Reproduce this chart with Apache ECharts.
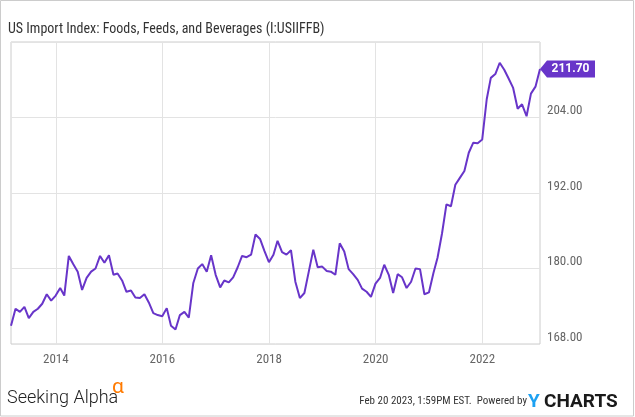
<!DOCTYPE html>
<html>
<head>
<meta charset="utf-8">
<script src="https://cdn.jsdelivr.net/npm/echarts@6/dist/echarts.min.js"></script>
<style>
html,body{margin:0;padding:0;background:#fff;}
#chart{width:635px;height:417px;}
</style>
</head>
<body>
<div id="chart"></div>
<script>
// Monthly values (month-end), Feb 2013 .. Jan 2023
var startYear = 2013;
var startMonth = 2; // February
var values = [
  170.9, 173.6, 173.1, 173.9, 172.1, 173.1, 173.6, 174.4, 175.9, 174.9, 175.7,
  176.9, 175.7, 182.0, 180.7, 179.5, 176.6, 178.5, 179.5, 180.0, 182.0, 180.9, 182.1,
  179.0, 179.2, 178.1, 176.3, 176.5, 175.4, 175.3, 175.9, 174.6, 172.9, 172.6, 172.4,
  173.7, 170.9, 170.3, 172.6, 173.1, 172.2, 177.7, 180.0, 180.7, 179.5, 182.1, 179.0,
  177.0, 178.1, 177.8, 178.6, 180.2, 182.0, 181.8, 182.2, 185.4, 184.7, 182.8, 181.0,
  182.2, 184.4, 182.6, 182.2, 182.9, 177.9, 175.3, 176.1, 179.5, 183.0, 180.2, 180.3,
  179.6, 179.5, 179.0, 184.0, 182.7, 179.9, 179.1, 178.2, 176.8, 176.3, 175.5, 177.6,
  178.5, 180.6, 179.0, 176.1, 179.1, 178.6, 176.9, 177.9, 180.0, 179.9, 175.9, 176.2,
  179.3, 181.7, 185.6, 190.2, 189.9, 193.3, 194.4, 195.5, 198.4, 200.0, 199.9, 200.5,
  206.9, 210.3, 210.9, 212.7, 211.6, 210.2, 208.7, 205.4, 206.1, 204.2, 207.8, 208.9,
  211.7
];
var xTickYears = [2014, 2016, 2018, 2020, 2022];
var yTicks = [168, 180, 192, 204, 216];
var titleText = 'US Import Index: Foods, Feeds, and Beverages (I:USIIFFB)';
var footerText = 'Feb 20 2023, 1:59PM EST.  Powered by';

var LINE = '#6835C9';
var NARROW = "'Liberation Sans Narrow', 'Roboto Condensed', 'DejaVu Sans Condensed', Roboto, sans-serif";

var data = values.map(function (v, i) {
  var d = new Date(startYear, startMonth - 1 + i + 1, 0); // month end
  return [d.getTime(), v];
});
var tickStamps = xTickYears.map(function (y) { return new Date(y, 0, 1).getTime(); });
var last = data[data.length - 1];

var chart = echarts.init(document.getElementById('chart'), null, {renderer: 'canvas'});
chart.setOption({
  animation: false,
  backgroundColor: '#fff',
  title: {
    text: titleText,
    left: 3, top: 17,
    textStyle: {fontFamily: NARROW, fontSize: 14, fontWeight: 'normal', color: '#333'}
  },
  grid: {left: 11, right: 95, top: 42, bottom: 73, show: true, borderColor: '#ccc', borderWidth: 1, containLabel: false},
  xAxis: {
    type: 'value',
    min: data[0][0],
    max: last[0],
    axisLine: {show: false},
    axisTick: {show: false, customValues: tickStamps},
    splitLine: {show: true, lineStyle: {color: '#e3e3e3', width: 1}},
    axisLabel: {
      customValues: tickStamps,
      formatter: function (v) { return String(new Date(v).getFullYear()); },
      color: '#666', fontFamily: NARROW, fontSize: 13, margin: 9
    }
  },
  yAxis: {
    type: 'value',
    position: 'right',
    min: yTicks[0], max: yTicks[yTicks.length - 1], interval: 12,
    axisLine: {show: false}, axisTick: {show: false},
    splitLine: {show: true, lineStyle: {color: '#e3e3e3', width: 1}},
    axisLabel: {
      showMaxLabel: false,
      formatter: function (v) { return v.toFixed(2); },
      color: '#666', fontFamily: NARROW, fontSize: 13, margin: 7, verticalAlign: 'bottom'
    }
  },
  series: [{
    type: 'line',
    data: data,
    showSymbol: false,
    lineStyle: {color: LINE, width: 2},
    itemStyle: {color: LINE},
    markPoint: {
      silent: true,
      symbol: 'path://M0,8.5L7,0L55,0L55,17L7,17Z',
      symbolSize: [55, 17],
      symbolOffset: [27.5, 0],
      symbolKeepAspect: false,
      itemStyle: {color: LINE},
      label: {
        show: true, position: 'inside', offset: [3, 0],
        color: '#fff', fontWeight: 'bold', fontSize: 12, fontFamily: 'Roboto, sans-serif',
        formatter: function (p) { return p.value.toFixed(2); }
      },
      data: [{coord: last, value: last[1]}]
    }
  }],
  graphic: [
    {type: 'rect', shape: {x: 0.5, y: 0.5, width: 633, height: 415.5}, style: {fill: 'none', stroke: '#ccc', lineWidth: 1}, silent: true},
    {type: 'text', left: 7, top: 389, style: {text: 'Seeking Alpha', fontFamily: 'Roboto, sans-serif', fontWeight: 300, fontSize: 18, fill: '#222'}},
    {type: 'text', left: 112, top: 377, style: {text: '\u03B1', fontFamily: 'Roboto, sans-serif', fontSize: 21, fill: '#FF7A00'}},
    {type: 'text', right: 108, top: 396, style: {text: footerText, fontFamily: NARROW, fontSize: 11, fill: '#333'}},
    {type: 'text', left: 528, top: 393, style: {text: 'Y', fontFamily: 'Roboto, sans-serif', fontWeight: 'bold', fontSize: 19, fill: '#1DA1F2'}},
    {type: 'text', left: 544, top: 393, style: {text: 'CHARTS', fontFamily: 'Roboto, sans-serif', fontWeight: 'bold', fontSize: 19, fill: '#1a1a1a'}}
  ]
});
</script>
</body>
</html>
